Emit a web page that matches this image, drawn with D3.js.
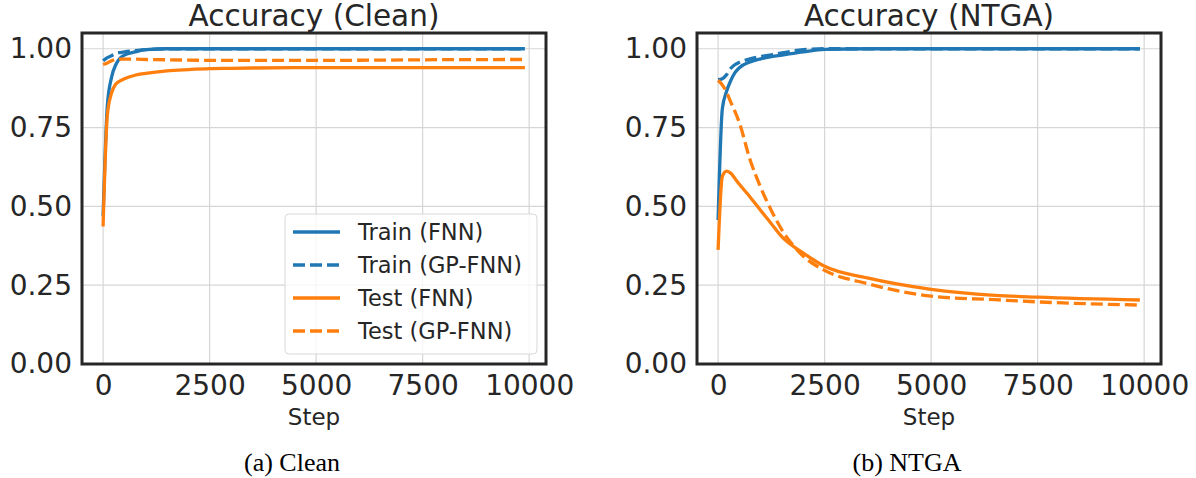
<!DOCTYPE html>
<html>
<head>
<meta charset="utf-8">
<script src="https://cdn.jsdelivr.net/npm/d3@7"></script>
<style>
    body { margin: 0; background: #fff; }
    svg { display: block; font-family: 'DejaVu Sans', sans-serif; }
</style>
</head>
<body>
<svg id="chart"></svg>
<script>
// values
const cleanSteps = [0, 100, 200, 300, 400, 500, 750, 1000, 1500, 2000, 2500, 3000, 3500, 5000, 6500, 7500, 9900]
const cleanTrainFnn = [0.47, 0.82, 0.91, 0.95, 0.97, 0.98, 0.99, 0.997, 1.0, 1.0, 1.0, 1.0, 1.0, 1.0, 1.0, 1.0, 1.0]
const cleanTrainGp = [0.962, 0.972, 0.978, 0.985, 0.988, 0.99, 0.994, 0.997, 1.0, 1.0, 1.0, 1.0, 1.0, 1.0, 1.0, 1.0, 1.0]
const cleanTestFnn = [0.436, 0.79, 0.86, 0.888, 0.898, 0.905, 0.916, 0.922, 0.93, 0.934, 0.937, 0.938, 0.939, 0.94, 0.94, 0.94, 0.94]
const cleanTestGp = [0.95, 0.955, 0.962, 0.966, 0.967, 0.967, 0.967, 0.966, 0.965, 0.964, 0.963, 0.963, 0.963, 0.963, 0.964, 0.965, 0.966]

const ntgaSteps = [0, 100, 200, 300, 400, 500, 750, 1000, 1250, 1500, 2000, 2500, 3500, 5000, 6500, 7500, 9900]
const ntgaTrainFnn = [0.457, 0.81, 0.865, 0.9, 0.925, 0.94, 0.958, 0.968, 0.975, 0.98, 0.99, 0.998, 1.0, 1.0, 1.0, 1.0, 1.0]
const ntgaTrainGp = [0.902, 0.905, 0.918, 0.938, 0.95, 0.957, 0.968, 0.975, 0.981, 0.987, 0.997, 1.0, 1.0, 1.0, 1.0, 1.0, 1.0]
const ntgaTestFnn = [0.362, 0.595, 0.612, 0.605, 0.588, 0.57, 0.53, 0.487, 0.445, 0.403, 0.352, 0.31, 0.273, 0.237, 0.218, 0.212, 0.203]
const ntgaTestGp = [0.9, 0.885, 0.862, 0.83, 0.8, 0.765, 0.648, 0.56, 0.487, 0.425, 0.342, 0.297, 0.255, 0.215, 0.204, 0.197, 0.187]

const seriesNames = ['Train (FNN)', 'Train (GP-FNN)', 'Test (FNN)', 'Test (GP-FNN)']
const seriesColors = ['#1f77b4', '#1f77b4', '#ff7f0e', '#ff7f0e']
const seriesDashed = [false, true, false, true]

const xTicks = [0, 2500, 5000, 7500, 10000]
const yTicks = [0, 0.25, 0.5, 0.75, 1.0]

const width = 1196
const height = 478
const plotW = 464
const plotTop = 33
const plotBottom = 364
const ink = '#262626'

const svg = d3.select('#chart').attr('width', width).attr('height', height)
svg.append('rect').attr('width', width).attr('height', height).attr('fill', '#fff')

function drawPanel(left, id, steps, series, title, caption, withLegend) {
    const xScale = d3.scaleLinear().domain([-495, 10395]).range([left, left + plotW])
    const yScale = d3.scaleLinear().domain([0, 1.05]).range([plotBottom, plotTop])
    const g = svg.append('g')

    svg.append('defs')
        .append('clipPath')
        .attr('id', id)
        .append('rect')
        .attr('x', left)
        .attr('y', plotTop)
        .attr('width', plotW)
        .attr('height', plotBottom - plotTop)

    // grid
    g.selectAll('.vgrid')
        .data(xTicks)
        .join('line')
        .attr('x1', (d) => xScale(d))
        .attr('x2', (d) => xScale(d))
        .attr('y1', plotTop)
        .attr('y2', plotBottom)
        .attr('stroke', '#d6d6d6')
        .attr('stroke-width', 1.2)
    g.selectAll('.hgrid')
        .data(yTicks)
        .join('line')
        .attr('x1', left)
        .attr('x2', left + plotW)
        .attr('y1', (d) => yScale(d))
        .attr('y2', (d) => yScale(d))
        .attr('stroke', '#d6d6d6')
        .attr('stroke-width', 1.2)

    const line = d3
        .line()
        .x((d) => xScale(d[0]))
        .y((d) => yScale(d[1]))
        .curve(d3.curveMonotoneX)

    const content = g.append('g').attr('clip-path', `url(#${id})`)
    series.forEach((vals, i) => {
        content
            .append('path')
            .attr('d', line(steps.map((s, j) => [s, vals[j]])))
            .attr('fill', 'none')
            .attr('stroke', seriesColors[i])
            .attr('stroke-width', 3.3)
            .attr('stroke-dasharray', seriesDashed[i] ? '12,5' : null)
            .attr('stroke-linejoin', 'round')
    })

    const xAxis = d3.axisBottom(xScale).tickValues(xTicks).tickFormat(d3.format('d')).tickSize(0).tickPadding(11)
    const yAxis = d3.axisLeft(yScale).tickValues(yTicks).tickFormat(d3.format('.2f')).tickSize(0).tickPadding(10)
    g.append('g')
        .attr('transform', `translate(0, ${plotBottom})`)
        .call(xAxis)
        .call((a) => a.select('.domain').remove())
    g.append('g')
        .attr('transform', `translate(${left}, 0)`)
        .call(yAxis)
        .call((a) => a.select('.domain').remove())
    g.selectAll('.tick text')
        .attr('font-family', 'DejaVu Sans')
        .attr('font-size', 28)
        .attr('fill', ink)

    g.append('rect')
        .attr('x', left)
        .attr('y', plotTop)
        .attr('width', plotW)
        .attr('height', plotBottom - plotTop)
        .attr('fill', 'none')
        .attr('stroke', ink)
        .attr('stroke-width', 3)

    g.append('text')
        .attr('x', left + plotW / 2)
        .attr('y', 26)
        .attr('text-anchor', 'middle')
        .attr('font-size', 29.5)
        .attr('fill', ink)
        .text(title)

    g.append('text')
        .attr('x', left + plotW / 2)
        .attr('y', 425)
        .attr('text-anchor', 'middle')
        .attr('font-size', 23)
        .attr('fill', ink)
        .text('Step')

    g.append('text')
        .attr('x', left + 210)
        .attr('y', 471)
        .attr('text-anchor', 'middle')
        .attr('font-family', 'Liberation Serif')
        .attr('font-size', 26)
        .attr('fill', '#000')
        .text(caption)

    if (withLegend) {
        const lg = g.append('g').attr('transform', `translate(${left + 203}, 214)`)
        lg.append('rect')
            .attr('width', 252)
            .attr('height', 140)
            .attr('rx', 4)
            .attr('fill', 'rgba(255,255,255,0.8)')
            .attr('stroke', '#d8d8d8')
            .attr('stroke-width', 1)
        const rows = lg
            .selectAll('.row')
            .data(seriesNames)
            .join('g')
            .attr('transform', (d, i) => `translate(0, ${18 + i * 33})`)
        rows.append('line')
            .attr('x1', 8)
            .attr('x2', 55)
            .attr('stroke', (d, i) => seriesColors[i])
            .attr('stroke-width', 3.3)
            .attr('stroke-dasharray', (d, i) => (seriesDashed[i] ? '12,5' : null))
        rows.append('text')
            .attr('x', 73)
            .attr('dy', '0.36em')
            .attr('font-size', 22.5)
            .attr('fill', ink)
            .text((d) => d)
    }
}

drawPanel(82, 'clipClean', cleanSteps, [cleanTrainFnn, cleanTrainGp, cleanTestFnn, cleanTestGp], 'Accuracy (Clean)', '(a) Clean', true)
drawPanel(697, 'clipNtga', ntgaSteps, [ntgaTrainFnn, ntgaTrainGp, ntgaTestFnn, ntgaTestGp], 'Accuracy (NTGA)', '(b) NTGA', false)
</script>
</body>
</html>
